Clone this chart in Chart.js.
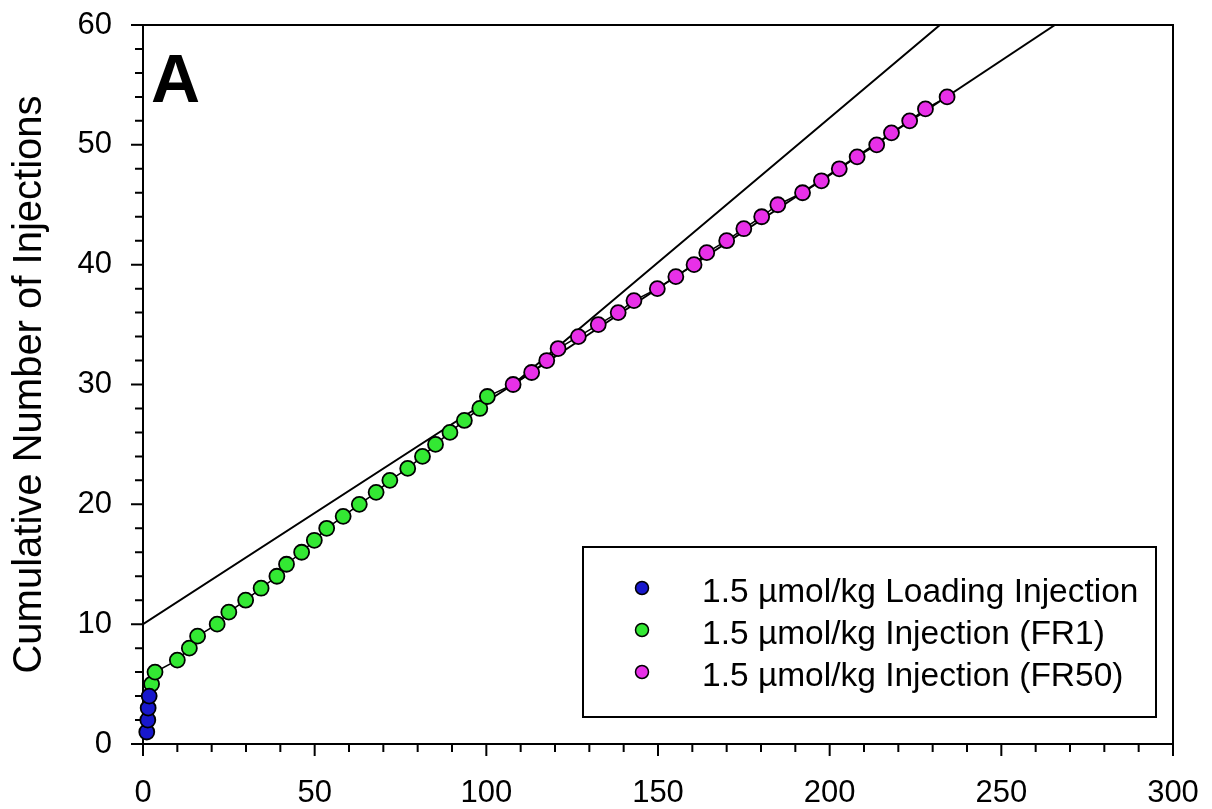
<!DOCTYPE html>
<html>
<head>
<meta charset="utf-8">
<script src="https://cdn.jsdelivr.net/npm/chart.js@4/dist/chart.umd.min.js"></script>
<style>
  body { margin: 0; background: #fff; }
  #wrap { width: 1212px; height: 809px; }
</style>
</head>
<body>
<div id="wrap"><canvas id="chart" width="1212" height="809"></canvas></div>
<script>
// valores (tempo x injeções acumuladas)
const loadingX = [1.1, 1.4, 1.5, 1.8];
const loadingY = [1, 2, 3, 4];

const fr1X = [2.5, 3.5, 10.0, 13.5, 15.9, 21.6, 25.0, 29.9, 34.4, 39.0, 41.8, 46.2, 49.9,
              53.5, 58.3, 63.0, 67.9, 71.9, 77.1, 81.4, 85.2, 89.4, 93.6, 98.1, 100.3];
const fr1Y = [5, 6, 7, 8, 9, 10, 11, 12, 13, 14, 15, 16, 17, 18, 19, 20, 21, 22, 23, 24, 25, 26, 27, 28, 29];

const fr50X = [107.8, 113.2, 117.6, 120.9, 126.8, 132.6, 138.4, 143.0, 149.8, 155.2, 160.5, 164.2, 170.0,
               175.0, 180.2, 184.9, 192.1, 197.6, 202.8, 208.0, 213.7, 218.0, 223.3, 227.9, 234.2];
const fr50Y = [30, 31, 32, 33, 34, 35, 36, 37, 38, 39, 40, 41, 42, 43, 44, 45, 46, 47, 48, 49, 50, 51, 52, 53, 54];

// linhas de ajuste
const fitUpperX = [0, 107.8, 232.1];
const fitUpperY = [10, 30, 60];
const fitLowerX = [107.8, 265.6];
const fitLowerY = [30, 60];

const seriesLabels = [
    '1.5 \u00b5mol/kg Loading Injection',
    '1.5 \u00b5mol/kg Injection (FR1)',
    '1.5 \u00b5mol/kg Injection (FR50)'
];
const seriesColors = ['#1818cc', '#33e833', '#e830e8'];

const xTicksMajor = 50;
const yTicksMajor = 10;

const FONT = '"Liberation Sans", Arial, sans-serif';

const pts = (xs, ys) => xs.map((x, i) => ({ x: x, y: ys[i] }));

const allPoints = [].concat(pts(loadingX, loadingY), pts(fr1X, fr1Y), pts(fr50X, fr50Y));

function pointSet(label, xs, ys, color) {
    return {
        label: label,
        data: pts(xs, ys),
        showLine: false,
        pointRadius: 7.5,
        pointHoverRadius: 7.5,
        pointBackgroundColor: color,
        pointBorderColor: '#000',
        pointBorderWidth: 1.8,
        clip: false,
        order: 1
    };
}

function lineSet(data, width) {
    return {
        label: '',
        data: data,
        showLine: true,
        pointRadius: 0,
        borderColor: '#000',
        borderWidth: width,
        fill: false,
        order: 2
    };
}

// tira o espaço extra que o Chart.js reserva para os rótulos
function fixScale(s, w, h) {
    if (w !== null) s.width = w;
    if (h !== null) s.height = h;
    s.paddingTop = 0;
    s.paddingBottom = 0;
    s.paddingLeft = 0;
    s.paddingRight = 0;
}

// moldura, marcas dos eixos, letra A e legenda
const framePlugin = {
    id: 'frame',
    beforeDatasetsDraw(chart) {
        const { ctx, chartArea: a, scales } = chart;
        ctx.save();
        ctx.strokeStyle = '#000';
        ctx.lineWidth = 2;
        ctx.strokeRect(a.left, a.top, a.right - a.left, a.bottom - a.top);

        ctx.beginPath();
        scales.x.ticks.forEach(t => {
            const px = scales.x.getPixelForValue(t.value);
            const len = t.value % xTicksMajor === 0 ? 12 : 8;
            ctx.moveTo(px, a.bottom);
            ctx.lineTo(px, a.bottom + len);
        });
        scales.y.ticks.forEach(t => {
            const py = scales.y.getPixelForValue(t.value);
            const len = t.value % yTicksMajor === 0 ? 12 : 8;
            ctx.moveTo(a.left, py);
            ctx.lineTo(a.left - len, py);
        });
        ctx.stroke();

        ctx.fillStyle = '#000';
        ctx.font = 'bold 68px ' + FONT;
        ctx.textAlign = 'left';
        ctx.textBaseline = 'alphabetic';
        ctx.fillText('A', a.left + 8, a.top + 77);
        ctx.restore();
    },
    afterDraw(chart) {
        const { ctx } = chart;
        const box = { left: 583, top: 547, right: 1156, bottom: 717 };
        ctx.save();
        ctx.fillStyle = '#fff';
        ctx.fillRect(box.left, box.top, box.right - box.left, box.bottom - box.top);
        ctx.strokeStyle = '#000';
        ctx.lineWidth = 2;
        ctx.strokeRect(box.left, box.top, box.right - box.left, box.bottom - box.top);

        ctx.font = '33.5px ' + FONT;
        ctx.textAlign = 'left';
        ctx.textBaseline = 'middle';
        chart.data.datasets.slice(0, 3).forEach((ds, i) => {
            const cy = 588 + i * 42;
            ctx.beginPath();
            ctx.arc(642, cy, 6.5, 0, Math.PI * 2);
            ctx.fillStyle = ds.pointBackgroundColor;
            ctx.fill();
            ctx.lineWidth = 1.5;
            ctx.strokeStyle = '#000';
            ctx.stroke();
            ctx.fillStyle = '#000';
            ctx.fillText(ds.label, 702, cy + 5);
        });
        ctx.restore();
    }
};

const ctx = document.getElementById('chart').getContext('2d');
new Chart(ctx, {
    type: 'scatter',
    data: {
        datasets: [
            pointSet(seriesLabels[0], loadingX, loadingY, seriesColors[0]),
            pointSet(seriesLabels[1], fr1X, fr1Y, seriesColors[1]),
            pointSet(seriesLabels[2], fr50X, fr50Y, seriesColors[2]),
            lineSet(allPoints, 1.5),
            lineSet(pts(fitUpperX, fitUpperY), 2),
            lineSet(pts(fitLowerX, fitLowerY), 2)
        ]
    },
    options: {
        responsive: false,
        animation: false,
        layout: { padding: { left: 0, top: 25, right: 39, bottom: 0 } },
        plugins: {
            legend: { display: false },
            tooltip: { enabled: false }
        },
        scales: {
            x: {
                type: 'linear',
                min: 0,
                max: 300,
                afterFit: s => fixScale(s, null, 65),
                border: { display: false },
                grid: { display: false, drawTicks: false },
                ticks: {
                    stepSize: 10,
                    autoSkip: false,
                    maxRotation: 0,
                    padding: 31,
                    color: '#000',
                    font: { family: FONT, size: 31 },
                    callback: v => (v % xTicksMajor === 0 ? v : '')
                }
            },
            y: {
                type: 'linear',
                min: 0,
                max: 60,
                afterFit: s => fixScale(s, 143, null),
                border: { display: false },
                grid: { display: false, drawTicks: false },
                title: {
                    display: true,
                    text: 'Cumulative Number of Injections',
                    color: '#000',
                    font: { family: FONT, size: 40 },
                    padding: { top: 6, bottom: 0 }
                },
                ticks: {
                    stepSize: 2,
                    autoSkip: false,
                    padding: 31,
                    color: '#000',
                    font: { family: FONT, size: 31 },
                    callback: v => (v % yTicksMajor === 0 ? v : '')
                }
            }
        }
    },
    plugins: [framePlugin]
});
</script>
</body>
</html>
